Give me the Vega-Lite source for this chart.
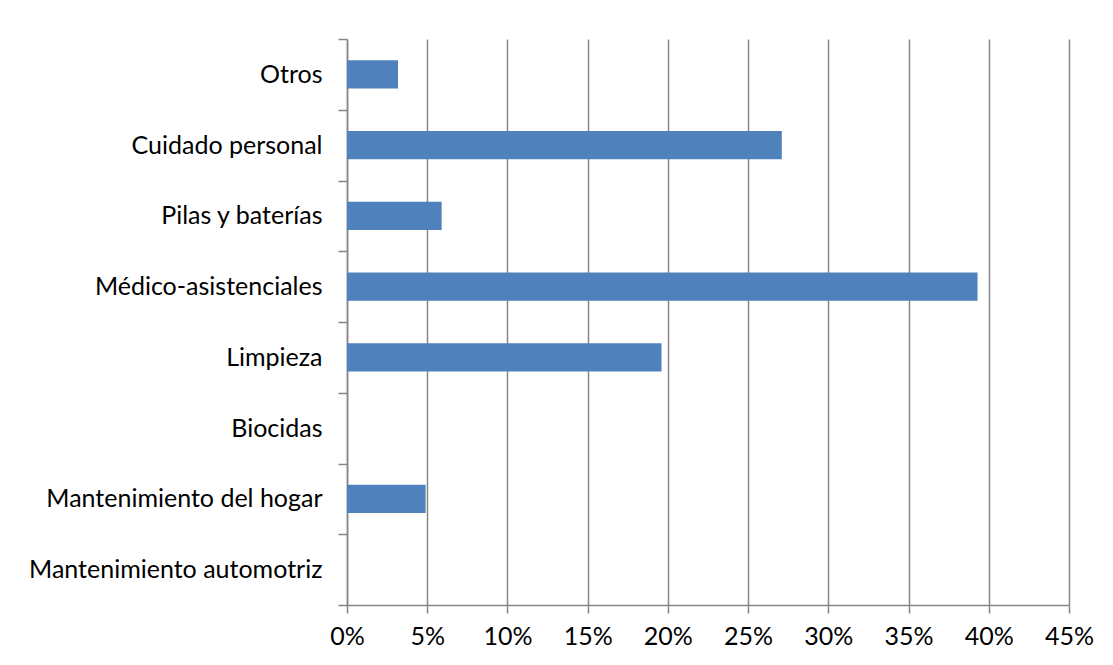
{
  "$schema": "https://vega.github.io/schema/vega-lite/v6.json",
  "autosize": {"type": "none"},
  "padding": {"left": 347, "top": 39, "right": 44, "bottom": 60},
  "width": 722,
  "height": 566,
  "background": "white",
  "config": {
    "view": {"stroke": null},
    "font": "Lato",
    "axis": {
      "labelFont": "Lato",
      "labelFontSize": 25,
      "labelColor": "#000000",
      "domainColor": "#868686",
      "domainWidth": 1.5,
      "tickColor": "#868686",
      "tickWidth": 1.5,
      "gridColor": "#868686",
      "gridWidth": 1.5,
      "gridOpacity": 1
    }
  },
  "data": {
    "values": [
      {"categoria": "Otros ", "valor": 0.0318},
      {"categoria": "Cuidado personal", "valor": 0.271},
      {"categoria": "Pilas y baterías", "valor": 0.059},
      {"categoria": "Médico-asistenciales", "valor": 0.393},
      {"categoria": "Limpieza", "valor": 0.196},
      {"categoria": "Biocidas ", "valor": 0},
      {"categoria": "Mantenimiento del hogar", "valor": 0.049},
      {"categoria": "Mantenimiento automotriz", "valor": 0}
    ]
  },
  "mark": {"type": "bar", "color": "#4F81BD", "height": {"band": 0.4}},
  "encoding": {
    "y": {
      "field": "categoria",
      "type": "nominal",
      "sort": null,
      "title": null,
      "scale": {"paddingInner": 0, "paddingOuter": 0},
      "axis": {
        "tickBand": "extent",
        "ticks": true,
        "tickSize": 9,
        "labelPadding": 16,
        "grid": false,
        "labelLimit": 400
      }
    },
    "x": {
      "field": "valor",
      "type": "quantitative",
      "title": null,
      "scale": {"domain": [0, 0.45], "nice": false},
      "axis": {
        "values": [0, 0.05, 0.1, 0.15, 0.2, 0.25, 0.3, 0.35, 0.4, 0.45],
        "format": ".0%",
        "grid": true,
        "labelFlush": false,
        "tickSize": 8,
        "labelPadding": 11
      }
    }
  }
}
